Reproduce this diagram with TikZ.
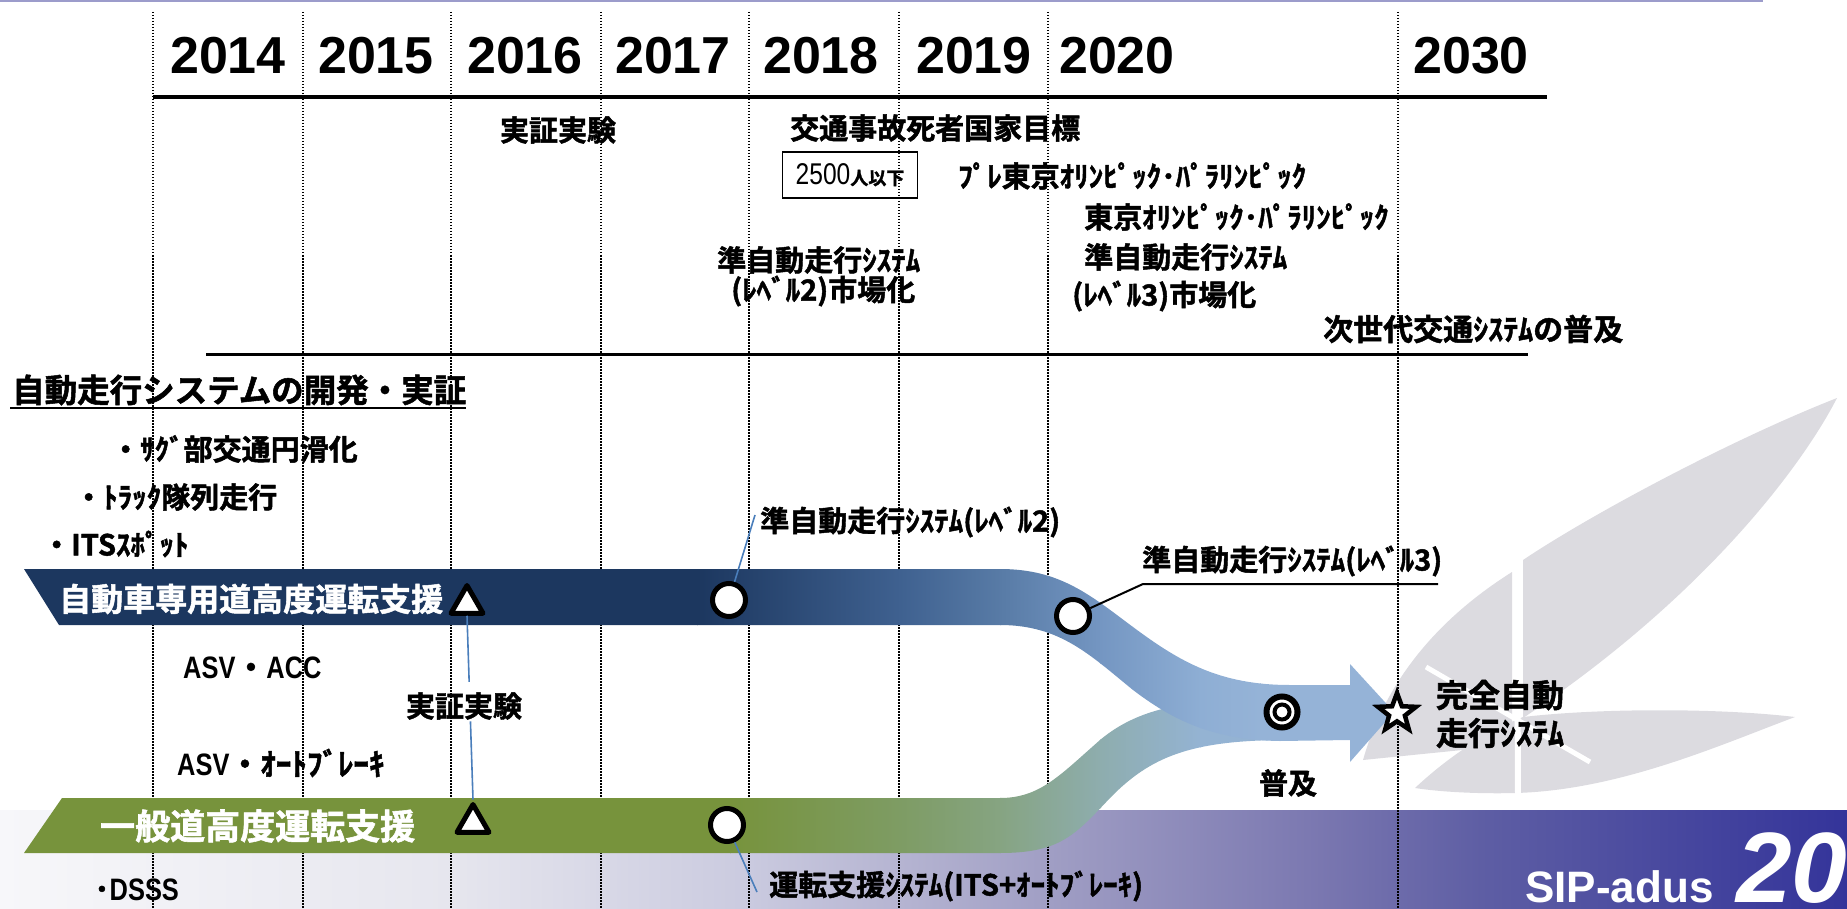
\documentclass[tikz,border=0pt]{standalone}
\usepackage{fontspec}
\usetikzlibrary{shapes.geometric,calc}
\setmainfont{Liberation Sans}
\newfontfamily\jp{Noto Sans CJK JP}[UprightFont=* Bold,FakeBold=1.6]
\newfontfamily\asv{Liberation Sans}[UprightFont=* Bold,FakeStretch=0.82]
\newfontfamily\narrowsans{Liberation Sans}[FakeStretch=0.82]
\newcommand\jpfont{\jp\fontsize{29}{34}\selectfont}

\definecolor{rulelilac}{HTML}{9C9CCB}
\definecolor{navy}{HTML}{1C375F}
\definecolor{blueA}{HTML}{3F6190}
\definecolor{blueB}{HTML}{587BA6}
\definecolor{blueC}{HTML}{7496C2}
\definecolor{blueD}{HTML}{8EAED4}
\definecolor{sky}{HTML}{95B3D7}
\definecolor{olive}{HTML}{77933C}
\definecolor{greenA}{HTML}{7E9C64}
\definecolor{greenB}{HTML}{86A482}
\definecolor{greenC}{HTML}{8EADAE}
\definecolor{skyL}{HTML}{94B3D3}
\definecolor{leadblue}{HTML}{4A7EBB}
\definecolor{logogray}{HTML}{DCDBE0}
\definecolor{bandA}{HTML}{F7F7FA}
\definecolor{bandB}{HTML}{E6E6EE}
\definecolor{bandC}{HTML}{CACADF}
\definecolor{bandD}{HTML}{A09EC4}
\definecolor{bandE}{HTML}{7A77B0}
\definecolor{bandF}{HTML}{5E5EA4}
\definecolor{bandG}{HTML}{34349A}

\tikzset{
  year/.style={font=\bfseries\fontsize{52}{60}\selectfont, inner sep=0},
  lbl/.style={font=\jpfont, inner sep=0, anchor=west},
  bandlbl/.style={lbl, text=white},
  latin/.style={font=\fontsize{31}{36}\selectfont, inner sep=0, anchor=west},
  gridline/.style={line width=1.2, dash pattern=on 1.5 off 1.5},
  mk/.style={draw=black, fill=white, line width=5, inner sep=0},
  ring/.style={mk, circle, minimum size=33},
  tri/.style={mk, regular polygon, regular polygon sides=3, minimum size=37, line join=round},
  leader/.style={draw=leadblue, line width=1.6},
  callout/.style={draw=black, line width=2},
}

\begin{document}
\begin{tikzpicture}[x=1pt,y=-1pt]
\useasboundingbox (0,0) rectangle (1847,909);

% footer band
\shade[left color=bandA,right color=bandB] (0,810) rectangle (451,909);
\shade[left color=bandB,right color=bandC] (450,810) rectangle (751,909);
\shade[left color=bandC,right color=bandD] (750,810) rectangle (1051,909);
\shade[left color=bandD,right color=bandE] (1050,810) rectangle (1321,909);
\shade[left color=bandE,right color=bandF] (1320,810) rectangle (1481,909);
\shade[left color=bandF,right color=bandG] (1480,810) rectangle (1847,909);

% watermark leaves
\fill[logogray] (1523,560) .. controls (1590,515) and (1730,440) .. (1837,398)
  .. controls (1800,470) and (1700,600) .. (1523,718) -- cycle;
\fill[logogray] (1363,760) .. controls (1380,700) and (1420,630) .. (1512,572)
  -- (1512,745) -- cycle;
\fill[logogray] (1415,788) .. controls (1450,755) and (1490,730) .. (1523,717)
  .. controls (1600,708) and (1720,708) .. (1795,717)
  .. controls (1720,745) and (1620,790) .. (1516,793)
  .. controls (1480,794) and (1440,792) .. (1415,788) -- cycle;
\draw[white, line width=6] (1517,556) -- (1518,797);
\draw[white, line width=5] (1426,667) -- (1590,762);

% year grid
\foreach \gx in {153,303,451,601,749,899,1048,1398}
  \draw[gridline] (\gx,12) -- (\gx,909);
\draw[rulelilac, line width=2] (0,1) -- (1763,1);
\draw[line width=4] (153,97) -- (1547,97);
\draw[line width=3] (206,354) -- (1528,354);

% general-road flow
\begin{scope}
  \clip (62,798) -- (1000,798) .. controls (1040,798) and (1060,775) .. (1100,740)
    .. controls (1130,715) and (1170,700) .. (1250,700) -- (1290,700) -- (1290,740)
    -- (1280,740) .. controls (1190,741) and (1150,757) .. (1110,798)
    .. controls (1075,835) and (1060,853) .. (1000,853) -- (24,853) -- cycle;
  \fill[olive] (0,690) rectangle (731,860);
  \shade[left color=olive,right color=greenA] (730,690) rectangle (901,860);
  \shade[left color=greenA,right color=greenB] (900,690) rectangle (1001,860);
  \shade[left color=greenB,right color=greenC] (1000,690) rectangle (1101,860);
  \shade[left color=greenC,right color=skyL] (1100,690) rectangle (1201,860);
  \fill[skyL] (1200,690) rectangle (1300,860);
\end{scope}

% expressway flow with arrow
\begin{scope}
  \clip (24,569) -- (1000,569) .. controls (1060,569) and (1090,595) .. (1133,627)
    .. controls (1180,662) and (1220,685) .. (1290,685) -- (1350,685) -- (1350,664)
    -- (1394,712) -- (1350,762) -- (1350,740) -- (1280,741)
    .. controls (1210,740) and (1170,718) .. (1133,690)
    .. controls (1090,655) and (1060,625) .. (1000,625) -- (59,625) -- cycle;
  \fill[navy] (0,550) rectangle (698,780);
  \shade[left color=navy,right color=blueA] (697,550) rectangle (901,780);
  \shade[left color=blueA,right color=blueB] (900,550) rectangle (1001,780);
  \shade[left color=blueB,right color=blueC] (1000,550) rectangle (1101,780);
  \shade[left color=blueC,right color=blueD] (1100,550) rectangle (1201,780);
  \shade[left color=blueD,right color=sky] (1200,550) rectangle (1261,780);
  \fill[sky] (1260,550) rectangle (1400,780);
\end{scope}

% years
\node[year] (y2014) at (228,56) {2014};
\node[year] (y2015) at (376,56) {2015};
\node[year] (y2016) at (525,56) {2016};
\node[year] (y2017) at (673,56) {2017};
\node[year] (y2018) at (821,56) {2018};
\node[year] (y2019) at (974,56) {2019};
\node[year] (y2020) at (1117,56) {2020};
\node[year] (y2030) at (1471,56) {2030};

% milestones
\node[lbl, anchor=center] (trial) at (558,130) {実証実験};
\node[lbl] (goal) at (790,128) {交通事故死者国家目標};
\node[draw, line width=1.5, minimum width=135, minimum height=46, inner sep=0,
      font=\fontsize{30}{34}\selectfont] (target) at (850,175)
  {{\narrowsans 2500}{\jp\fontsize{18}{20}\selectfont 人以下}};
\node[lbl] (pre) at (958,176) {ﾌﾟﾚ東京ｵﾘﾝﾋﾟｯｸ･ﾊﾟﾗﾘﾝﾋﾟｯｸ};
\node[lbl] (olym) at (1084,217) {東京ｵﾘﾝﾋﾟｯｸ･ﾊﾟﾗﾘﾝﾋﾟｯｸ};
\node[lbl] (l2a) at (717,260) {準自動走行ｼｽﾃﾑ};
\node[lbl] (l2b) at (731,291) {(ﾚﾍﾞﾙ2)市場化};
\node[lbl] (l3a) at (1084,257) {準自動走行ｼｽﾃﾑ};
\node[lbl] (l3b) at (1072,296) {(ﾚﾍﾞﾙ3)市場化};
\node[lbl, font=\jp\fontsize{30}{34}\selectfont] (next) at (1323,329) {次世代交通ｼｽﾃﾑの普及};

% development heading and items
\node[lbl, font=\jp\fontsize{32.5}{38}\selectfont] (dev) at (12,390) {自動走行システムの開発・実証};
\coordinate (ul) at (0,408);
\draw[line width=2.5] ([xshift=-2]dev.west |- ul) -- (dev.east |- ul);
\node[lbl] (sag) at (111,449) {・ｻｸﾞ部交通円滑化};
\node[lbl] (truck) at (74,497) {・ﾄﾗｯｸ隊列走行};
\node[lbl] (spot) at (42,544) {・ITSｽﾎﾟｯﾄ};

% flow labels
\node[bandlbl, font=\jp\fontsize{32}{38}\selectfont] (hwy) at (59,599) {自動車専用道高度運転支援};
\node[bandlbl, font=\jp\fontsize{35}{40}\selectfont] (gen) at (100,826) {一般道高度運転支援};

\node[latin] (acc) at (183,668) {{\asv ASV}{\jp ・}{\asv ACC}};
\node[latin] (brake) at (177,763) {{\asv ASV}{\jp ・ｵｰﾄﾌﾞﾚｰｷ}};
\node[latin] (dsss) at (94,890) {{\jp ･}{\asv DSSS}};

% markers
\node[tri] (t1) at (467,604) {};
\node[tri] (t2) at (473,823) {};
\node[ring] (c1) at (729,600) {};
\node[ring] (c2) at (727,825) {};
\node[ring] (c3) at (1073,616) {};
\node[ring, line width=6, minimum size=31] (c4) at (1282,712) {};
\node[circle, draw, fill=white, line width=4, minimum size=15, inner sep=0] (c4in) at (c4) {};
\node[star, star points=5, star point ratio=2.4, draw, fill=white, line width=4.5,
      minimum size=40, inner sep=0] (fin) at (1397,713) {};

% leaders and callouts
\node[lbl, anchor=center] (trial2) at (464,706) {実証実験};
\draw[leader] (t1.south) -- ($(t1.south)!0.36!(t2.north)$);
\draw[leader] ($(t1.south)!0.575!(t2.north)$) -- (t2.north);

\node[lbl] (lv2) at (760,522) {準自動走行ｼｽﾃﾑ(ﾚﾍﾞﾙ2)};
\coordinate (lv2end) at (755,515);
\draw[leader] (c1) -- (lv2end);

\node[lbl] (drv) at (769,886) {運転支援ｼｽﾃﾑ(ITS+ｵｰﾄﾌﾞﾚｰｷ)};
\coordinate (drvend) at (757,892);
\draw[leader] (c2) -- (drvend);

\node[lbl] (lv3) at (1142,561) {準自動走行ｼｽﾃﾑ(ﾚﾍﾞﾙ3)};
\coordinate (lv3knee) at (1143,584);
\coordinate (lv3end) at (1438,584);
\draw[callout] (c3) -- (lv3knee) -- (lv3end);

\node[lbl, anchor=center] (spread) at (1288,783) {普及};
\node[inner sep=0, align=center, font=\jp\fontsize{32}{38}\selectfont] (auto) at (1500,714) {完全自動\\走行ｼｽﾃﾑ};

% footer title
\node[anchor=base west, inner sep=0, text=white, font=\bfseries\fontsize{44}{50}\selectfont] (sip) at (1525,902) {SIP-adus};
\node[anchor=base west, inner sep=0, text=white, font=\bfseries\itshape\fontsize{100}{104}\selectfont] (edition) at (1736,902) {20};
\end{tikzpicture}
\end{document}
